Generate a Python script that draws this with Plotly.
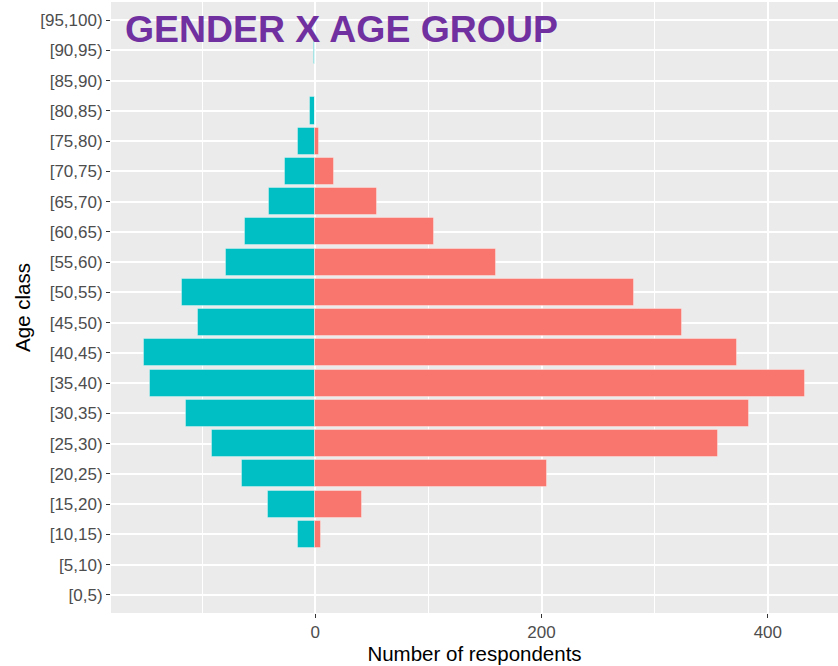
import plotly.graph_objects as go

age_classes = ["[0,5)", "[5,10)", "[10,15)", "[15,20)", "[20,25)", "[25,30)", "[30,35)",
               "[35,40)", "[40,45)", "[45,50)", "[50,55)", "[55,60)", "[60,65)", "[65,70)",
               "[70,75)", "[75,80)", "[80,85)", "[85,90)", "[90,95)", "[95,100)"]
female = [0, 0, 5, 41, 205, 356, 383, 433, 373, 324, 282, 160, 105, 55, 17, 3, 0, 0, 0, 0]
male = [0, 0, -15, -42, -65, -91, -114, -146, -151, -104, -118, -79, -62, -41, -27, -15, -5, 0, -1, 0]
x_ticks = [0, 200, 400]
title_text = "GENDER X AGE GROUP"

fig = go.Figure()
fig.add_trace(go.Bar(y=age_classes, x=male, orientation="h", width=0.9,
                     marker=dict(color="#00BFC4", line=dict(color="rgba(255,255,255,0.35)", width=1)),
                     name="Male", showlegend=False))
fig.add_trace(go.Bar(y=age_classes, x=female, orientation="h", width=0.9,
                     marker=dict(color="#F8766D", line=dict(color="rgba(255,255,255,0.35)", width=1)),
                     name="Female", showlegend=False))

fig.update_layout(
    width=838, height=666,
    margin=dict(l=111, r=0, t=2, b=53, autoexpand=False),
    paper_bgcolor="white", plot_bgcolor="#EBEBEB",
    barmode="relative", bargap=0,
    font=dict(family="Liberation Sans, Arial, sans-serif", color="#4D4D4D"),
    xaxis=dict(range=[-180.5, 462], tickvals=x_ticks, ticktext=[str(v) for v in x_ticks],
               automargin=False,
               showgrid=True, gridcolor="white", gridwidth=1.6,
               minor=dict(tickvals=[-100, 100, 300], showgrid=True, gridcolor="white", gridwidth=0.8),
               zeroline=False, ticks="outside", ticklen=4, tickwidth=1.2, tickcolor="#333333",
               tickfont=dict(size=17, color="#4D4D4D"),
               title=dict(text="Number of respondents", font=dict(size=20.5, color="black"), standoff=2)),
    yaxis=dict(categoryorder="array", categoryarray=age_classes, range=[-0.6, 19.6],
               automargin=False,
               showgrid=True, gridcolor="white", gridwidth=1.6, zeroline=False,
               ticks="outside", ticklen=4, tickwidth=1.2, tickcolor="#333333",
               tickfont=dict(size=17, color="#4D4D4D"),
               title=dict(text="Age class", font=dict(size=20.5, color="black"), standoff=4)),
    annotations=[dict(text="<b>" + title_text + "</b>", xref="paper", yref="paper",
                      x=0.016, y=0.955, xanchor="left", yanchor="middle", showarrow=False,
                      font=dict(size=37.4, color="#7030A0", family="Liberation Sans, Arial, sans-serif"))],
)

fig.write_html("out.html", config={"displayModeBar": False},
               post_script="document.body.style.margin='0';document.body.style.overflow='hidden';")
